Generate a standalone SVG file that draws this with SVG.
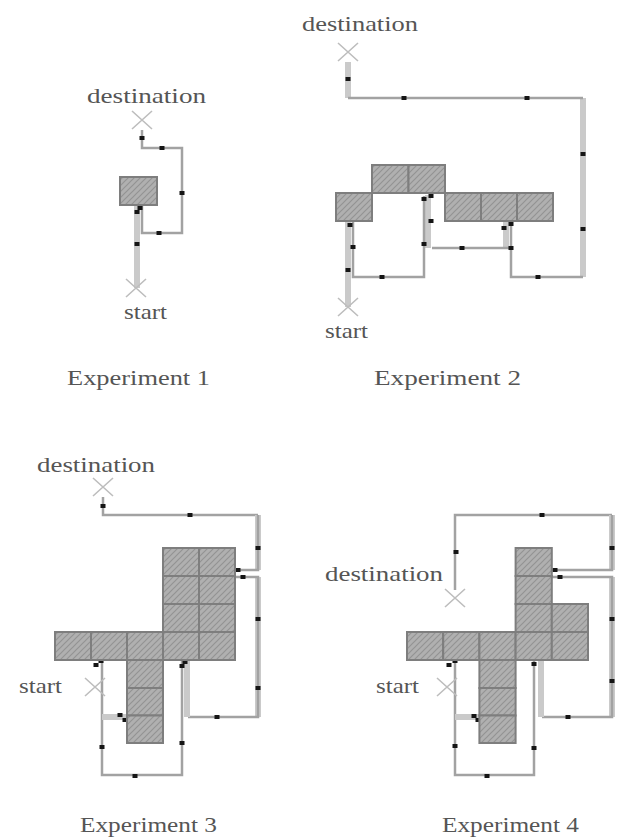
<svg xmlns="http://www.w3.org/2000/svg" xmlns:xlink="http://www.w3.org/1999/xlink" width="624" height="839" viewBox="0 0 624 839">
<style>
.lbl{font-family:"Liberation Serif","Times New Roman",serif;font-size:22px;fill:#555}
.blk{fill:url(#hatch);stroke:#7e7e7e;stroke-width:2}
.ln{fill:none;stroke:#a2a2a2;stroke-width:2.5}
.dbl{fill:none;stroke:#cacaca;stroke-width:6}
.xm{fill:none;stroke:#bdbdbd;stroke-width:1.6}
</style>
<defs>
<pattern id="hatch" patternUnits="userSpaceOnUse" width="6" height="6">
<rect width="6" height="6" fill="#b0b0b0"/>
<path d="M-1,7 L7,-1 M-4,4 L4,-4 M2,10 L10,2" stroke="#939393" stroke-width="1.2"/>
</pattern>
<path id="xmark" class="xm" d="M-10,-9 L10,9 M-10,9 L10,-9"/>
<rect id="dot" x="-2.5" y="-2" width="5" height="4" fill="#151515"/>
</defs>
<rect width="624" height="839" fill="#fff"/>

<g id="connectors">
<path class="dbl" d="M137,206 V288"/>
<path class="ln" d="M142,130 V148 H182 V233 H142 V206"/>
<path class="dbl" d="M348,62 V98"/>
<path class="dbl" d="M583,98 V277"/>
<path class="dbl" d="M348,222 V307"/>
<path class="dbl" d="M428,195 V248"/>
<path class="dbl" d="M506,222 V248"/>
<path class="ln" d="M348,98 H583"/>
<path class="ln" d="M583,277 H511 V222"/>
<path class="ln" d="M511,248 H432"/>
<path class="ln" d="M424,196 V277 H353 V222"/>
<path class="ln" d="M103,497 V515 H258"/>
<path class="dbl" d="M258,515 V570"/>
<path class="dbl" d="M258,577 V717"/>
<path class="ln" d="M258,515 V570 H236"/>
<path class="ln" d="M236,577 H258 V717 H188"/>
<path class="dbl" d="M187,660 V717"/>
<path class="ln" d="M182,660 V775 H102 V660"/>
<path class="dbl" d="M102,717 H127"/>
<path class="ln" d="M455,590 V515 H612"/>
<path class="dbl" d="M612,515 V570"/>
<path class="dbl" d="M612,577 V717"/>
<path class="ln" d="M612,515 V570 H552"/>
<path class="ln" d="M552,577 H612 V717 H542"/>
<path class="dbl" d="M541,660 V717"/>
<path class="ln" d="M534,660 V775 H455 V660"/>
<path class="dbl" d="M455,717 H479"/>
</g>

<g id="dots">
<use href="#dot" x="142" y="138"/><use href="#dot" x="162" y="148"/><use href="#dot" x="182" y="193"/><use href="#dot" x="159" y="233"/><use href="#dot" x="137" y="244"/><use href="#dot" x="140" y="208"/><use href="#dot" x="137" y="212"/>
<use href="#dot" x="348" y="79"/><use href="#dot" x="404" y="98"/><use href="#dot" x="527" y="98"/><use href="#dot" x="583" y="154"/><use href="#dot" x="583" y="229"/><use href="#dot" x="538" y="277"/><use href="#dot" x="511" y="224"/><use href="#dot" x="504" y="228"/><use href="#dot" x="511" y="248"/><use href="#dot" x="462" y="248"/><use href="#dot" x="431" y="196"/><use href="#dot" x="424" y="199"/><use href="#dot" x="431" y="221"/><use href="#dot" x="424" y="244"/><use href="#dot" x="382" y="277"/><use href="#dot" x="353" y="247"/><use href="#dot" x="350" y="225"/><use href="#dot" x="348" y="270"/>
<use href="#dot" x="103" y="506"/><use href="#dot" x="190" y="515"/><use href="#dot" x="258" y="548"/><use href="#dot" x="238" y="570"/><use href="#dot" x="243" y="577"/><use href="#dot" x="258" y="619"/><use href="#dot" x="258" y="688"/><use href="#dot" x="217" y="717"/><use href="#dot" x="185" y="662"/><use href="#dot" x="182" y="666"/><use href="#dot" x="182" y="743"/><use href="#dot" x="135" y="776"/><use href="#dot" x="102" y="747"/><use href="#dot" x="96" y="665"/><use href="#dot" x="101" y="661"/><use href="#dot" x="120" y="715"/><use href="#dot" x="125" y="720"/>
<use href="#dot" x="456" y="552"/><use href="#dot" x="542" y="515"/><use href="#dot" x="612" y="548"/><use href="#dot" x="555" y="570"/><use href="#dot" x="560" y="577"/><use href="#dot" x="612" y="619"/><use href="#dot" x="612" y="681"/><use href="#dot" x="568" y="717"/><use href="#dot" x="534" y="664"/><use href="#dot" x="534" y="748"/><use href="#dot" x="487" y="776"/><use href="#dot" x="455" y="746"/><use href="#dot" x="449" y="665"/><use href="#dot" x="455" y="661"/><use href="#dot" x="474" y="716"/><use href="#dot" x="478" y="720"/>
</g>

<g id="exp1">
<g id="exp1-block"><rect class="blk" x="120" y="177" width="37" height="28"/></g>
<g id="exp1-dest"><use href="#xmark" x="142" y="120"/><text class="lbl" x="87" y="103" textLength="119" lengthAdjust="spacingAndGlyphs">destination</text></g>
<g id="exp1-start"><use href="#xmark" x="136" y="288"/><text class="lbl" x="124" y="319" textLength="43" lengthAdjust="spacingAndGlyphs">start</text></g>
<g id="exp1-caption"><text class="lbl" x="67" y="385" textLength="143" lengthAdjust="spacingAndGlyphs">Experiment 1</text></g>
</g>

<g id="exp2">
<g id="exp2-blocks">
<rect class="blk" x="336" y="193" width="36" height="28"/>
<rect class="blk" x="372" y="165" width="36.5" height="28"/>
<rect class="blk" x="408.5" y="165" width="36.5" height="28"/>
<rect class="blk" x="445" y="193" width="36" height="28"/>
<rect class="blk" x="481" y="193" width="36" height="28"/>
<rect class="blk" x="517" y="193" width="36" height="28"/>
</g>
<g id="exp2-dest"><use href="#xmark" x="348" y="52"/><text class="lbl" x="302" y="31" textLength="116" lengthAdjust="spacingAndGlyphs">destination</text></g>
<g id="exp2-start"><use href="#xmark" x="348" y="307"/><text class="lbl" x="325" y="338" textLength="43" lengthAdjust="spacingAndGlyphs">start</text></g>
<g id="exp2-caption"><text class="lbl" x="374" y="385" textLength="147" lengthAdjust="spacingAndGlyphs">Experiment 2</text></g>
</g>

<g id="exp3">
<g id="exp3-blocks">
<rect class="blk" x="163" y="548" width="36" height="28"/><rect class="blk" x="199" y="548" width="36" height="28"/>
<rect class="blk" x="163" y="576" width="36" height="28"/><rect class="blk" x="199" y="576" width="36" height="28"/>
<rect class="blk" x="163" y="604" width="36" height="28"/><rect class="blk" x="199" y="604" width="36" height="28"/>
<rect class="blk" x="55" y="632" width="36" height="28"/><rect class="blk" x="91" y="632" width="36" height="28"/><rect class="blk" x="127" y="632" width="36" height="28"/><rect class="blk" x="163" y="632" width="36" height="28"/><rect class="blk" x="199" y="632" width="36" height="28"/>
<rect class="blk" x="127" y="660" width="36" height="28"/><rect class="blk" x="127" y="688" width="36" height="27.5"/><rect class="blk" x="127" y="715.5" width="36" height="27.5"/>
</g>
<g id="exp3-dest"><use href="#xmark" x="103" y="487"/><text class="lbl" x="37" y="472" textLength="118" lengthAdjust="spacingAndGlyphs">destination</text></g>
<g id="exp3-start"><use href="#xmark" x="95" y="687"/><text class="lbl" x="19" y="693" textLength="43" lengthAdjust="spacingAndGlyphs">start</text></g>
<g id="exp3-caption"><text class="lbl" x="80" y="832" textLength="137" lengthAdjust="spacingAndGlyphs">Experiment 3</text></g>
</g>

<g id="exp4">
<g id="exp4-blocks">
<rect class="blk" x="515.6" y="548" width="36.2" height="28"/>
<rect class="blk" x="515.6" y="576" width="36.2" height="28"/>
<rect class="blk" x="515.6" y="604" width="36.2" height="28"/><rect class="blk" x="551.8" y="604" width="36.2" height="28"/>
<rect class="blk" x="407" y="632" width="36.2" height="28"/><rect class="blk" x="443.2" y="632" width="36.2" height="28"/><rect class="blk" x="479.4" y="632" width="36.2" height="28"/><rect class="blk" x="515.6" y="632" width="36.2" height="28"/><rect class="blk" x="551.8" y="632" width="36.2" height="28"/>
<rect class="blk" x="479.4" y="660" width="36.2" height="28"/><rect class="blk" x="479.4" y="688" width="36.2" height="27.5"/><rect class="blk" x="479.4" y="715.5" width="36.2" height="27.5"/>
</g>
<g id="exp4-dest"><use href="#xmark" x="455" y="598"/><text class="lbl" x="325" y="581" textLength="118" lengthAdjust="spacingAndGlyphs">destination</text></g>
<g id="exp4-start"><use href="#xmark" x="447" y="687"/><text class="lbl" x="376" y="693" textLength="43" lengthAdjust="spacingAndGlyphs">start</text></g>
<g id="exp4-caption"><text class="lbl" x="442" y="832" textLength="137" lengthAdjust="spacingAndGlyphs">Experiment 4</text></g>
</g>
</svg>
